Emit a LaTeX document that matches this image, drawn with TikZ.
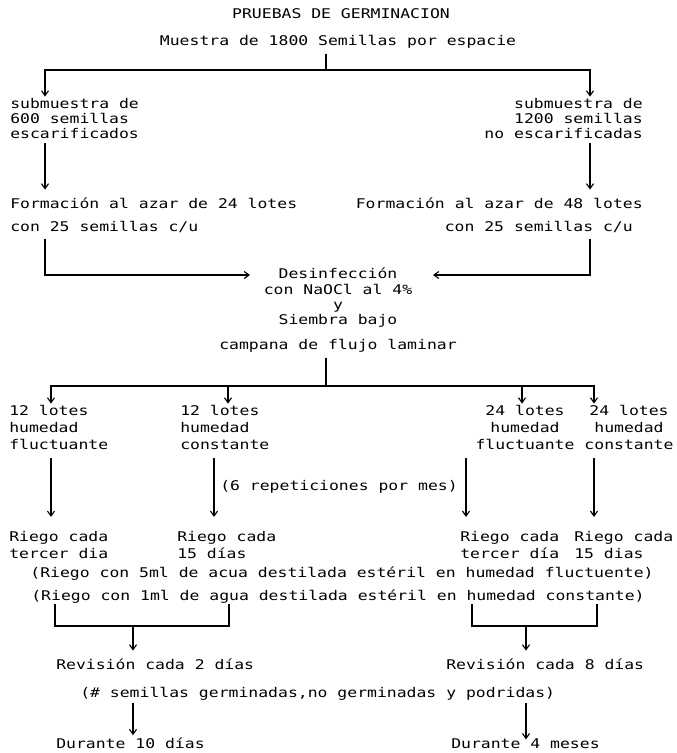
\documentclass[tikz,border=0pt]{standalone}
\usepackage{fontspec}
\setmainfont[FakeStretch=1.23]{DejaVu Sans Mono}
\usetikzlibrary{arrows.meta,positioning,calc}

\begin{document}
\begin{tikzpicture}[x=0.025cm,y=-0.025cm,
  every node/.style={font=\fontsize{9.5pt}{10.7pt}\selectfont,inner sep=0pt},
  lote/.style={font=\fontsize{9.5pt}{12pt}\selectfont},
  lin/.style={line width=0.8pt},
  arr/.style={lin,-{Straight Barb[length=3.5pt,width=5pt]}}]
  \useasboundingbox (0,0) rectangle (676,753);
  \fill[white] (0,0) rectangle (676,753);

  %% Titulo
  \node[anchor=north] (title) at (341,8) {PRUEBAS DE GERMINACION};
  \node[anchor=north] (muestra) at (338,35) {Muestra de 1800 Semillas por espacie};

  %% Submuestras
  \node[anchor=north west,align=left] (subL) at (10,98)
    {submuestra de\\600 semillas\\escarificados};
  \node[anchor=north east,align=right] (subR) at (643,98)
    {submuestra de\\1200 semillas\\no escarificadas};
  \node[anchor=north west] (formL) at (10,198) {Formación al azar de 24 lotes};
  \node[anchor=north east] (formR) at (643,198) {Formación al azar de 48 lotes};
  \node[anchor=north west] (conL) at (10,221) {con 25 semillas c/u};
  \node[anchor=north east] (conR) at (633,221) {con 25 semillas c/u};

  %% Desinfeccion y siembra
  \node[anchor=north,align=center] (siembra) at (338,268)
    {Desinfección\\con NaOCl al 4\%\\y\\Siembra bajo\\[7.5pt]campana de flujo laminar};

  \coordinate (colA) at (45,0);
  \coordinate (colB) at (590,0);
  \coordinate (split1) at (326,70);
  \coordinate (tipL) at (250,275);
  \coordinate (tipR) at (433,275);

  \draw[lin,shorten <=4pt] (muestra.south -| split1) -- (split1);
  \draw[arr,shorten >=1pt] (split1) -| (subL.north -| colA);
  \draw[arr,shorten >=1pt] (split1) -| (subR.north -| colB);
  \draw[arr,shorten <=3pt,shorten >=6pt] (subL.south -| colA) -- (formL.north -| colA);
  \draw[arr,shorten <=3pt,shorten >=6pt] (subR.south -| colB) -- (formR.north -| colB);
  \draw[arr,shorten <=4pt] (conL.south -| colA) |- (tipL);
  \draw[arr,shorten <=4pt] (conR.south -| colB) |- (tipR);

  %% Lotes
  \node[lote,anchor=north west,align=left] (lote1) at (9,405)
    {12 lotes\\humedad\\fluctuante};
  \node[lote,anchor=north west,align=left] (lote2) at (180,405)
    {12 lotes\\humedad\\constante};
  \node[lote,anchor=north,align=center] (lote3) at (525,405)
    {24 lotes\\humedad\\fluctuante};
  \node[lote,anchor=north,align=center] (lote4) at (629,405)
    {24 lotes\\humedad\\constante};

  \coordinate (split2) at (326,386);
  \coordinate (c1) at (51,0);
  \coordinate (c2) at (228,0);
  \coordinate (c3) at (522,0);
  \coordinate (c4) at (594,0);

  \draw[lin,shorten <=4pt] (siembra.south -| split2) -- (split2);
  \draw[arr,shorten >=1pt] (split2) -| (lote1.north -| c1);
  \draw[arr,shorten >=1pt] (split2) -| (lote2.north -| c2);
  \draw[arr,shorten >=1pt] (split2) -| (lote3.north -| c3);
  \draw[arr,shorten >=1pt] (split2) -| (lote4.north -| c4);

  %% Riego
  \node[lote,anchor=north west,align=left] (riego1) at (9,531) {Riego cada\\tercer dia};
  \node[lote,anchor=north west,align=left] (riego2) at (177,531) {Riego cada\\15 días};
  \node[lote,anchor=north west,align=left] (riego3) at (460,531) {Riego cada\\tercer día};
  \node[lote,anchor=north west,align=left] (riego4) at (574,531) {Riego cada\\15 dias};
  \node[anchor=west] (rep) at (220,487) {(6 repeticiones por mes)};

  \coordinate (d1) at (51,0);
  \coordinate (d2) at (214,0);
  \coordinate (d3) at (466,0);
  \coordinate (d4) at (594,0);

  \draw[arr,shorten <=6pt,shorten >=10pt] (lote1.south -| d1) -- (riego1.north -| d1);
  \draw[arr,shorten <=6pt,shorten >=10pt] (lote2.south -| d2) -- (riego2.north -| d2);
  \draw[arr,shorten <=6pt,shorten >=10pt] (lote3.south -| d3) -- (riego3.north -| d3);
  \draw[arr,shorten <=6pt,shorten >=10pt] (lote4.south -| d4) -- (riego4.north -| d4);

  \node[anchor=north] (agua5) at (342,567)
    {(Riego con 5ml de acua destilada estéril en humedad fluctuente)};
  \node[anchor=north] (agua1) at (338,590)
    {(Riego con 1ml de agua destilada estéril en humedad constante)};

  %% Revision
  \node[anchor=north west] (revL) at (56,659) {Revisión cada 2 días};
  \node[anchor=north west] (revR) at (446,659) {Revisión cada 8 días};

  \coordinate (bL1) at (55,626);
  \coordinate (bL2) at (229,626);
  \coordinate (bR1) at (472,626);
  \coordinate (bR2) at (597,626);
  \coordinate (colL) at (133,0);
  \coordinate (colR) at (526,0);

  \draw[lin] (bL1 |- agua1.south) -- (bL1) -- (bL2) -- (bL2 |- agua1.south);
  \draw[lin] (bR1 |- agua1.south) -- (bR1) -- (bR2) -- (bR2 |- agua1.south);
  \draw[arr,shorten >=6pt] (bL1 -| colL) -- (revL.north -| colL);
  \draw[arr,shorten >=6pt] (bR1 -| colR) -- (revR.north -| colR);

  %% Conteo
  \node[anchor=north west] (cuenta) at (80,687)
    {(\# semillas germinadas,no germinadas y podridas)};
  \node[anchor=north west] (durL) at (56,738) {Durante 10 días};
  \node[anchor=north west] (durR) at (451,738) {Durante 4 meses};

  \draw[arr,shorten <=2pt,shorten >=2pt] (cuenta.south -| colL) -- (durL.north -| colL);
  \draw[arr,shorten <=2pt,shorten >=-1pt] (cuenta.south -| colR) -- (durR.north -| colR);
\end{tikzpicture}
\end{document}
